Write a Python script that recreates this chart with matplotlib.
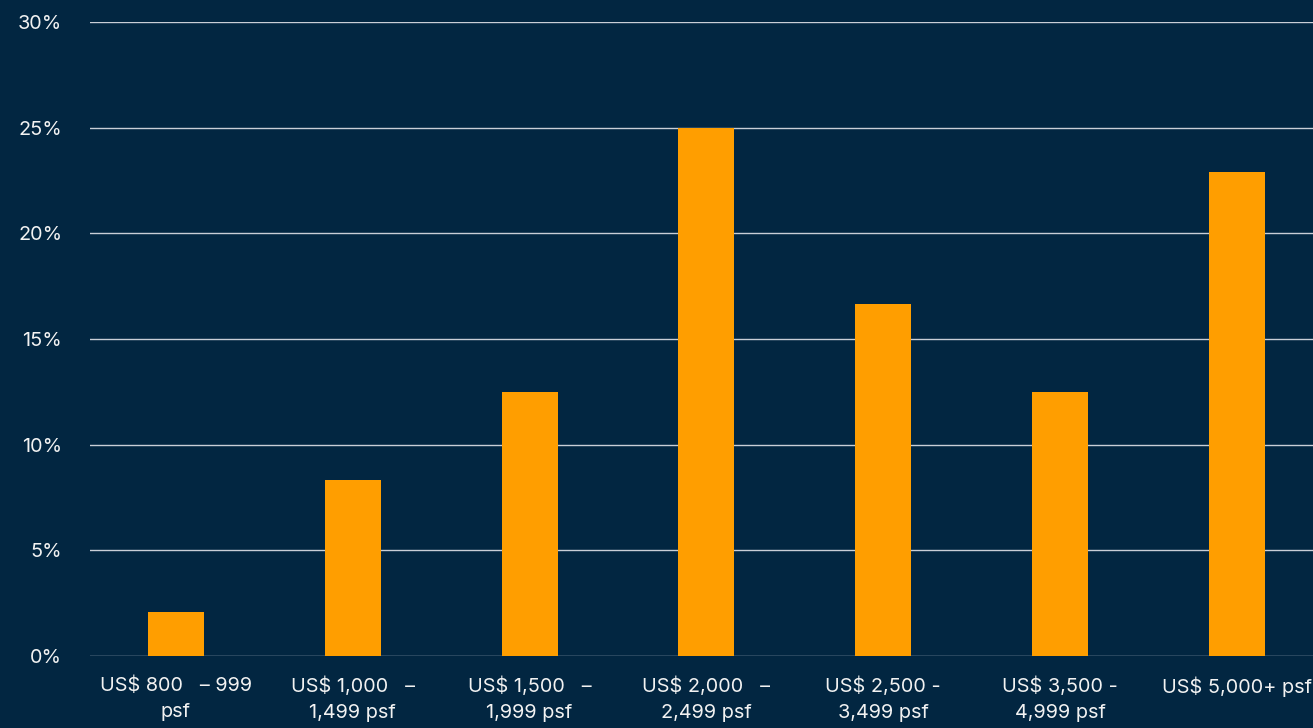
import matplotlib
matplotlib.use("Agg")
import matplotlib.pyplot as plt

# Datos del gráfico
categorias = [
    "US$ 800   \u2013 999\npsf",
    "US$ 1,000   \u2013\n1,499 psf",
    "US$ 1,500   \u2013\n1,999 psf",
    "US$ 2,000   \u2013\n2,499 psf",
    "US$ 2,500 -\n3,499 psf",
    "US$ 3,500 -\n4,999 psf",
    "US$ 5,000+ psf",
]
valores = [2.08, 8.33, 12.5, 25.0, 16.67, 12.5, 22.92]
ticks_y = [0, 5, 10, 15, 20, 25, 30]

fondo = "#022641"
naranja = "#FF9E00"
texto = "#F2F2F2"

plt.rcParams["font.family"] = ["Inter", "DejaVu Sans"]

fig = plt.figure(figsize=(13.13, 7.28), dpi=100, facecolor=fondo)
ax = fig.add_axes([90 / 1313, 72 / 728, 1 - 90 / 1313, (656 - 22) / 728])
ax.set_facecolor(fondo)

x = list(range(len(categorias)))
ax.bar(x, valores, width=0.317, color=naranja, zorder=3)

ax.set_xlim(-0.486, 6.43)
ax.set_ylim(0, 30)
ax.set_yticks(ticks_y)
ax.set_yticklabels([f"{t}%" for t in ticks_y])
ax.set_xticks(x)
ax.set_xticklabels(categorias, linespacing=1.55)

ax.grid(axis="y", color="#C9CED6", linewidth=1.0, zorder=0)
for s in ax.spines.values():
    s.set_visible(False)
ax.tick_params(axis="both", length=0, colors=texto, labelsize=14.3)
ax.tick_params(axis="y", pad=20)
ax.tick_params(axis="x", pad=15)

fig.savefig("out.png", dpi=100, facecolor=fondo)
